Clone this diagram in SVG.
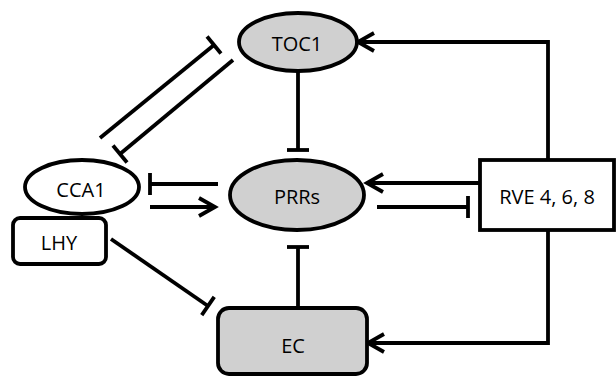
<svg xmlns="http://www.w3.org/2000/svg" width="616" height="377" viewBox="0 0 616 377">
<style>
.node{stroke:#000;stroke-width:3.8}
.gray{fill:#d0d0d0}
.white{fill:#fff}
.lbl{font-family:"Open Sans","Noto Sans","Liberation Sans",sans-serif;font-size:20px;fill:#000;text-anchor:middle;dominant-baseline:central}
.edge{fill:none;stroke:#000;stroke-width:3.8}
</style>
<defs>
<marker id="arrow" markerUnits="userSpaceOnUse" markerWidth="30" markerHeight="30" refX="20" refY="15" orient="auto" overflow="visible">
<path d="M4,6 L20,15 L4,24" fill="none" stroke="#000" stroke-width="3.8"/>
</marker>
<marker id="tee" markerUnits="userSpaceOnUse" markerWidth="30" markerHeight="30" refX="15" refY="15" orient="auto" overflow="visible">
<path d="M15,4 L15,26" fill="none" stroke="#000" stroke-width="3.8"/>
</marker>
</defs>
<g id="connectors">
<line class="edge" x1="100" y1="138" x2="214" y2="45" marker-end="url(#tee)"/>
<line class="edge" x1="233" y1="60" x2="120" y2="154" marker-end="url(#tee)"/>
<line class="edge" x1="298" y1="72" x2="298" y2="150" marker-end="url(#tee)"/>
<polyline class="edge" points="548,160 548,42 358,42" marker-end="url(#arrow)"/>
<line class="edge" x1="480" y1="183" x2="367" y2="183" marker-end="url(#arrow)"/>
<line class="edge" x1="377" y1="207" x2="468" y2="207" marker-end="url(#tee)"/>
<line class="edge" x1="218" y1="184" x2="150" y2="184" marker-end="url(#tee)"/>
<line class="edge" x1="150" y1="207" x2="215" y2="207" marker-end="url(#arrow)"/>
<line class="edge" x1="111" y1="239" x2="208" y2="306" marker-end="url(#tee)"/>
<line class="edge" x1="298" y1="308" x2="298" y2="247" marker-end="url(#tee)"/>
<polyline class="edge" points="548,230 548,343 368,343" marker-end="url(#arrow)"/>
</g>
<g id="TOC1">
<ellipse class="node gray" cx="298" cy="42" rx="59" ry="29"/>
<text class="lbl" x="297" y="43">TOC1</text>
</g>
<g id="PRRs">
<ellipse class="node gray" cx="297" cy="195" rx="67" ry="35"/>
<text class="lbl" x="297" y="196">PRRs</text>
</g>
<g id="CCA1">
<ellipse class="node white" cx="82" cy="187" rx="57" ry="27"/>
<text class="lbl" x="81" y="189">CCA1</text>
</g>
<g id="LHY">
<rect class="node white" x="13" y="218" width="93" height="46" rx="7"/>
<text class="lbl" x="59" y="242">LHY</text>
</g>
<g id="RVE">
<rect class="node white" x="480" y="160" width="134" height="70"/>
<text class="lbl" x="547" y="196">RVE 4, 6, 8</text>
</g>
<g id="EC">
<rect class="node gray" x="218" y="308" width="149" height="66" rx="11"/>
<text class="lbl" x="293" y="345">EC</text>
</g>
</svg>
